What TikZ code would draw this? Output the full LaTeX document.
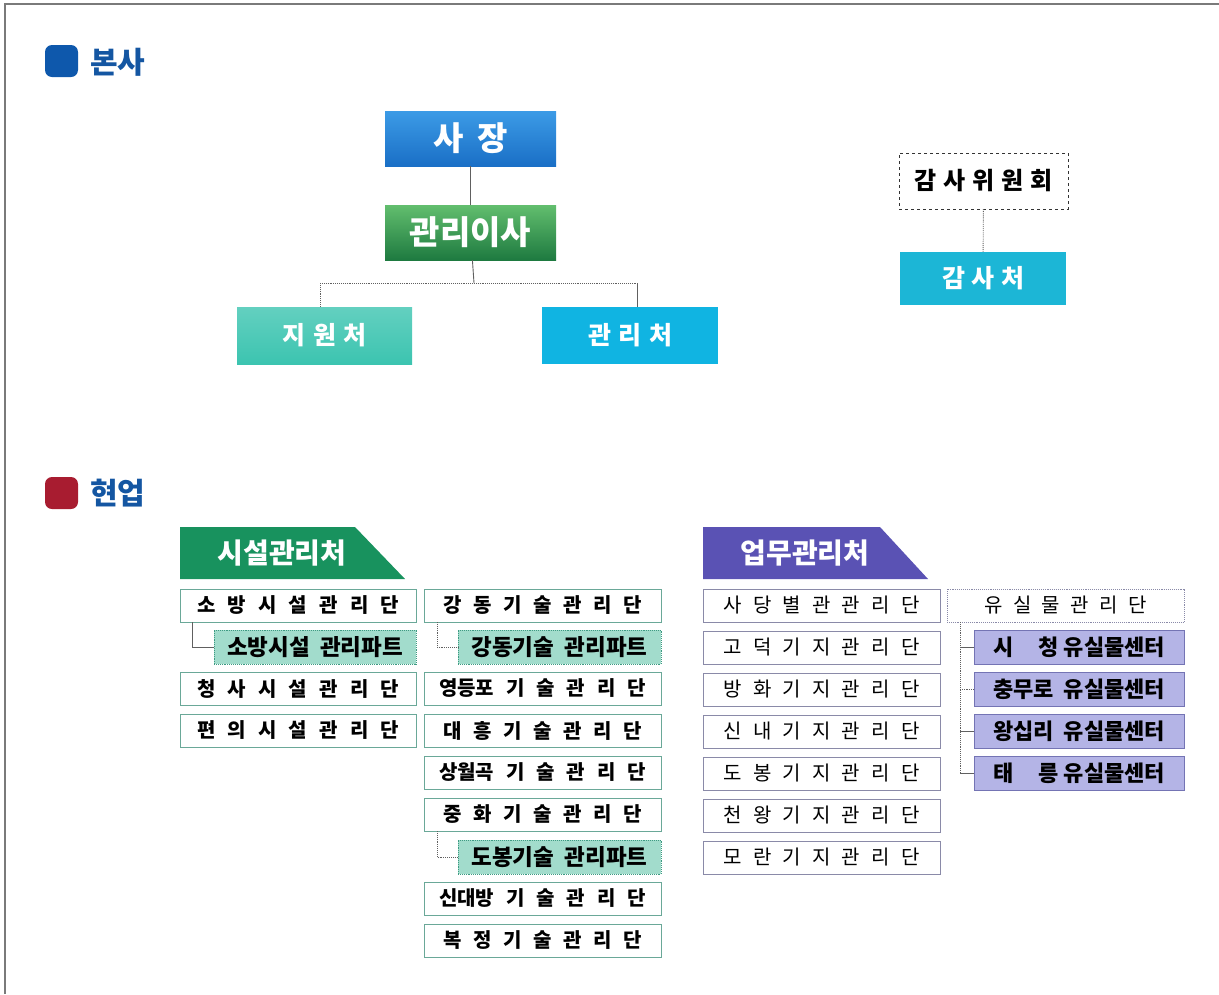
\documentclass[tikz,border=0pt]{standalone}
\usepackage{fontspec}
\usepackage{tikz}
\newfontfamily\kr{Noto Sans CJK KR}

\definecolor{frameline}{HTML}{7A7A7A}
\definecolor{titleblue}{HTML}{1456A2}
\definecolor{bulletblue}{HTML}{0E58AC}
\definecolor{bulletred}{HTML}{A81C30}
\definecolor{ceotop}{HTML}{3C9BE6}
\definecolor{ceobot}{HTML}{1A6FC6}
\definecolor{dirtop}{HTML}{62BE6E}
\definecolor{dirbot}{HTML}{1E7A40}
\definecolor{supteal}{HTML}{3CC4B0}
\definecolor{mgmtcyan}{HTML}{10B4E2}
\definecolor{auditcyan}{HTML}{1CB6D6}
\definecolor{facgreen}{HTML}{18925E}
\definecolor{workpurple}{HTML}{5A52B4}
\definecolor{danline}{HTML}{6AA898}
\definecolor{partfill}{HTML}{A2DCCC}
\definecolor{partline}{HTML}{3E9A82}
\definecolor{gijiline}{HTML}{8A8AA8}
\definecolor{centerfill}{HTML}{B4B4E6}
\definecolor{centerline}{HTML}{7474B4}
\definecolor{linkgray}{HTML}{606060}

% spread the letters of a label over a given width
\newcommand\spaced[2]{\makebox[#1pt][s]{#2}}

\tikzset{
  base/.style={inner sep=0pt, outer sep=0pt, anchor=north west, align=center},
  hqbox/.style={base, minimum width=171, minimum height=55, text=white,
    font=\kr\bfseries\fontsize{33}{34}\selectfont},
  deptbox/.style={base, minimum width=175, minimum height=57, text=white,
    font=\kr\bfseries\fontsize{25}{26}\selectfont},
  danbox/.style={base, draw=danline, line width=0.9pt, fill=white,
    minimum width=236, minimum height=33, font=\kr\bfseries\fontsize{20}{21}\selectfont},
  partbox/.style={base, draw=partline, densely dotted, line width=0.9pt, fill=partfill,
    minimum width=202, minimum height=34, font=\kr\bfseries\fontsize{22.5}{23}\selectfont},
  gijibox/.style={base, draw=gijiline, line width=0.9pt, fill=white,
    minimum width=237, minimum height=33, font=\kr\fontsize{20}{21}\selectfont},
  centerbox/.style={base, draw=centerline, line width=0.9pt, fill=centerfill,
    minimum width=210, minimum height=34, font=\kr\bfseries\fontsize{22}{23}\selectfont},
  headtext/.style={inner sep=0pt, text=white, font=\kr\bfseries\fontsize{28}{30}\selectfont},
  sectitle/.style={inner sep=0pt, anchor=west, text=titleblue, font=\kr\bfseries\fontsize{30}{32}\selectfont},
  link/.style={draw=linkgray, line width=0.9pt},
  dotlink/.style={draw=linkgray, densely dotted, line width=0.9pt}
}

\begin{document}
\begin{tikzpicture}[x=1pt, y=-1pt]
  \useasboundingbox (0,0) rectangle (1219,994);
  % frame
  \draw[frameline, line width=1.5pt] (5,994) -- (5,4) -- (1219,4);

  % section titles
  \fill[bulletblue, rounded corners=7pt] (45,45) rectangle (78,77);
  \node[sectitle] (hqtitle) at (90,62) {본사};
  \fill[bulletred, rounded corners=7pt] (45,477) rectangle (78,509);
  \node[sectitle] (fieldtitle) at (90,493) {현업};

  % head office
  \node[hqbox, top color=ceotop, bottom color=ceobot] (ceo) at (385,111) {\spaced{74}{사\hfill 장}};
  \node[hqbox, top color=dirtop, bottom color=dirbot] (director) at (385,205) {관리이사};
  \node[deptbox, top color=supteal!80!white, bottom color=supteal] (support) at (237,307) {\spaced{84}{지\hfill 원\hfill 처}};
  \node[deptbox, fill=mgmtcyan, minimum width=176] (mgmt) at (542,307) {\spaced{84}{관\hfill 리\hfill 처}};
  \node[base, draw=black!80, dashed, line width=0.9pt, minimum width=169, minimum height=56,
    font=\kr\bfseries\fontsize{24}{26}\selectfont] (auditcom) at (899,153) {\spaced{138}{감\hfill 사\hfill 위\hfill 원\hfill 회}};
  \node[deptbox, fill=auditcyan, minimum width=166, minimum height=53] (audit) at (900,252) {\spaced{82}{감\hfill 사\hfill 처}};

  % connectors, head office
  \coordinate (split) at (474,283);
  \coordinate (splitleft) at (320,283);
  \coordinate (splitright) at (637,283);
  \draw[link] (ceo) -- (director);
  \draw[link] (director) -- (split);
  \draw[dotlink] (splitleft) -- (splitright);
  \draw[dotlink] (splitleft) -- (splitleft |- support.north);
  \draw[link] (splitright) -- (splitright |- mgmt.north);
  \draw[dotlink] (auditcom) -- (audit);

  % facility headquarters
  \fill[facgreen] (180,527) -- (355,527) -- (405,579) -- (180,579) -- cycle;
  \node[headtext] (facility) at (282,553) {시설관리처};
  \node[danbox] (sobang) at (180,589) {\spaced{202}{소\hfill 방\hfill 시\hfill 설\hfill 관\hfill 리\hfill 단}};
  \node[partbox] (sobangpart) at (214,630) {\spaced{176}{소방시설\hfill 관리파트}};
  \node[danbox] (cheongsa) at (180,672) {\spaced{202}{청\hfill 사\hfill 시\hfill 설\hfill 관\hfill 리\hfill 단}};
  \node[danbox] (pyeonui) at (180,714) {\spaced{202}{편\hfill 의\hfill 시\hfill 설\hfill 관\hfill 리\hfill 단}};

  \node[danbox, minimum width=237] (gangdong) at (424,589) {\spaced{198}{강\hfill 동\hfill 기\hfill 술\hfill 관\hfill 리\hfill 단}};
  \node[partbox, minimum width=203] (gangdongpart) at (458,630) {\spaced{176}{강동기술\hfill 관리파트}};
  \node[danbox, minimum width=237] (yeongdeungpo) at (424,672) {\spaced{207}{영등포\hfill 기\hfill 술\hfill 관\hfill 리\hfill 단}};
  \node[danbox, minimum width=237] (daeheung) at (424,714) {\spaced{198}{대\hfill 흥\hfill 기\hfill 술\hfill 관\hfill 리\hfill 단}};
  \node[danbox, minimum width=237] (sangwolgok) at (424,756) {\spaced{207}{상월곡\hfill 기\hfill 술\hfill 관\hfill 리\hfill 단}};
  \node[danbox, minimum width=237] (junghwa) at (424,798) {\spaced{198}{중\hfill 화\hfill 기\hfill 술\hfill 관\hfill 리\hfill 단}};
  \node[partbox, minimum width=203] (dobongpart) at (458,840) {\spaced{176}{도봉기술\hfill 관리파트}};
  \node[danbox, minimum width=237] (sindaebang) at (424,882) {\spaced{207}{신대방\hfill 기\hfill 술\hfill 관\hfill 리\hfill 단}};
  \node[danbox, minimum width=237] (bokjeong) at (424,924) {\spaced{198}{복\hfill 정\hfill 기\hfill 술\hfill 관\hfill 리\hfill 단}};

  \draw[link] (sobang.south west) ++(12,0) |- (sobangpart.west);
  \draw[dotlink] (gangdong.south west) ++(13,0) |- (gangdongpart.west);
  \draw[dotlink] (junghwa.south west) ++(13,0) |- (dobongpart.west);

  % business headquarters
  \fill[workpurple] (703,527) -- (880,527) -- (928,579) -- (703,579) -- cycle;
  \node[headtext] (business) at (805,553) {업무관리처};
  \node[gijibox] (sadang) at (703,589) {\spaced{196}{사\hfill 당\hfill 별\hfill 관\hfill 관\hfill 리\hfill 단}};
  \node[gijibox] (godeok) at (703,631) {\spaced{196}{고\hfill 덕\hfill 기\hfill 지\hfill 관\hfill 리\hfill 단}};
  \node[gijibox] (banghwa) at (703,673) {\spaced{196}{방\hfill 화\hfill 기\hfill 지\hfill 관\hfill 리\hfill 단}};
  \node[gijibox] (sinnae) at (703,715) {\spaced{196}{신\hfill 내\hfill 기\hfill 지\hfill 관\hfill 리\hfill 단}};
  \node[gijibox] (dobong) at (703,757) {\spaced{196}{도\hfill 봉\hfill 기\hfill 지\hfill 관\hfill 리\hfill 단}};
  \node[gijibox] (cheonwang) at (703,799) {\spaced{196}{천\hfill 왕\hfill 기\hfill 지\hfill 관\hfill 리\hfill 단}};
  \node[gijibox] (moran) at (703,841) {\spaced{196}{모\hfill 란\hfill 기\hfill 지\hfill 관\hfill 리\hfill 단}};

  \node[gijibox, densely dotted] (lostfound) at (947,589) {\spaced{162}{유\hfill 실\hfill 물\hfill 관\hfill 리\hfill 단}};
  \node[centerbox] (cityhall) at (974,630) {\spaced{172}{시\hfill 청 유실물센터}};
  \node[centerbox] (chungmuro) at (974,672) {\spaced{172}{충무로\hfill 유실물센터}};
  \node[centerbox] (wangsimni) at (974,714) {\spaced{172}{왕십리\hfill 유실물센터}};
  \node[centerbox] (taereung) at (974,756) {\spaced{172}{태\hfill 릉 유실물센터}};

  \coordinate (lostbranch) at (960,773);
  \draw[dotlink] (lostfound.south west) ++(13,0) -- (lostbranch);
  \draw[link] (cityhall.west) -- ++(-14,0);
  \draw[dotlink] (chungmuro.west) -- ++(-14,0);
  \draw[link] (wangsimni.west) -- ++(-14,0);
  \draw[link] (taereung.west) -- (lostbranch);
\end{tikzpicture}
\end{document}
